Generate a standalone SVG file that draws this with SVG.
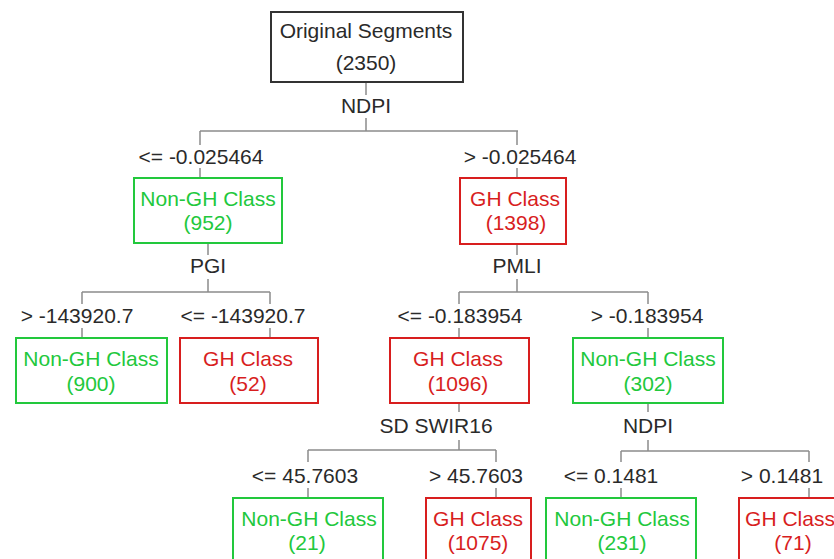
<svg xmlns="http://www.w3.org/2000/svg" width="834" height="559" viewBox="0 0 834 559">
<style>
text{font-family:"Liberation Sans",Arial,sans-serif;font-size:21px;text-anchor:middle}
.lbl{fill:#2a2a2a}
.g rect{fill:#fff;stroke:#22c83c;stroke-width:2}
.g text{fill:#22c83c}
.r rect{fill:#fff;stroke:#d81e1e;stroke-width:2}
.r text{fill:#d81e1e}
.k rect{fill:#fff;stroke:#333;stroke-width:2}
.k text{fill:#2a2a2a}
#connectors path{fill:none;stroke:#8c8c8c;stroke-width:1.5}
</style>
<rect width="834" height="559" fill="#fff"/>
<g id="connectors">
<path d="M366 82V95M366 118V131M200 131H518M200 131V145M200 168V178M517 131V145M517 168V178"/>
<path d="M208 243V255M208 279V292M82 292H270M82 292V304M82 328V338M270 292V304M270 328V338"/>
<path d="M517 244V255M517 279V292M459 292H648M459 292V304M459 328V338M648 292V304M648 328V338"/>
<path d="M459 403V412M459 440V450M308 450H496M308 450V462M308 488V498M496 450V462M496 488V498"/>
<path d="M648 403V412M648 440V451M621 451H809M621 451V462M621 488V498M809 451V462M809 488V498"/>
</g>
<g id="edge-labels" class="lbl">
<text x="366" y="113">NDPI</text>
<text x="201" y="164">&lt;= -0.025464</text>
<text x="520" y="164">&gt; -0.025464</text>
<text x="208" y="273">PGI</text>
<text x="517" y="273">PMLI</text>
<text x="77" y="323">&gt; -143920.7</text>
<text x="243" y="323">&lt;= -143920.7</text>
<text x="460" y="323">&lt;= -0.183954</text>
<text x="647" y="323">&gt; -0.183954</text>
<text x="436" y="433">SD SWIR16</text>
<text x="648" y="433">NDPI</text>
<text x="305" y="483">&lt;= 45.7603</text>
<text x="476" y="483">&gt; 45.7603</text>
<text x="611" y="483">&lt;= 0.1481</text>
<text x="782" y="483">&gt; 0.1481</text>
</g>
<g id="root" class="k"><rect x="271" y="12" width="192" height="70"/><text x="366" y="38">Original Segments</text><text x="366" y="70">(2350)</text></g>
<g id="n952" class="g"><rect x="134" y="178" width="148" height="65"/><text x="208" y="206">Non-GH Class</text><text x="208" y="230">(952)</text></g>
<g id="n1398" class="r"><rect x="460" y="178" width="106" height="66"/><text x="515" y="206">GH Class</text><text x="516" y="230">(1398)</text></g>
<g id="n900" class="g"><rect x="16" y="338" width="151" height="65"/><text x="91" y="366">Non-GH Class</text><text x="91" y="391">(900)</text></g>
<g id="n52" class="r"><rect x="180" y="338" width="138" height="65"/><text x="248" y="366">GH Class</text><text x="248" y="391">(52)</text></g>
<g id="n1096" class="r"><rect x="390" y="338" width="139" height="65"/><text x="458" y="366">GH Class</text><text x="458" y="391">(1096)</text></g>
<g id="n302" class="g"><rect x="573" y="338" width="150" height="65"/><text x="648" y="366">Non-GH Class</text><text x="648" y="391">(302)</text></g>
<g id="n21" class="g"><rect x="233" y="498" width="150" height="70"/><text x="309" y="526">Non-GH Class</text><text x="307" y="550">(21)</text></g>
<g id="n1075" class="r"><rect x="426" y="498" width="105" height="70"/><text x="478" y="526">GH Class</text><text x="478" y="550">(1075)</text></g>
<g id="n231" class="g"><rect x="546" y="498" width="150" height="70"/><text x="622" y="526">Non-GH Class</text><text x="622" y="550">(231)</text></g>
<g id="n71" class="r"><rect x="739" y="498" width="110" height="70"/><text x="790" y="526">GH Class</text><text x="793" y="550">(71)</text></g>
</svg>
